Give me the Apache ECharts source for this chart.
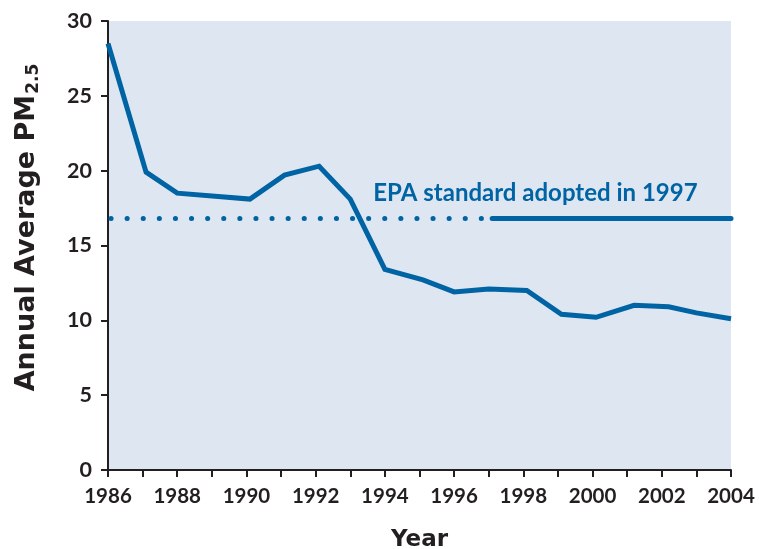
<!DOCTYPE html>
<html>
<head>
<meta charset="utf-8">
<script src="https://cdn.jsdelivr.net/npm/echarts@6/dist/echarts.min.js"></script>
<style>
  html, body { margin: 0; padding: 0; background: #fff; }
  #chart { width: 759px; height: 549px; }
</style>
</head>
<body>
<div id="chart"></div>
<script>
// annual average PM2.5 (x = year, y = value)
var years = [1986, 1987.1, 1988, 1990.1, 1991.1, 1992.1, 1993, 1994, 1995.1, 1996, 1997, 1998.1, 1999.1, 2000.1, 2001.2, 2002.2, 2003, 2004];
var pm25 = [28.5, 19.9, 18.5, 18.1, 19.7, 20.3, 18.1, 13.4, 12.7, 11.9, 12.1, 12.0, 10.4, 10.2, 11.0, 10.9, 10.5, 10.1];

// EPA standard line: dotted before adoption, solid after
var standardValue = 16.8;
var standardStart = 1986;
var adoptedYear = 1997.1;
var standardEnd = 2004;
var standardLabel = 'EPA standard adopted in 1997';
var labelAt = [1998.35, 18.5];

var blue = '#0064a4';
var ink = '#231f20';

var chart = echarts.init(document.getElementById('chart'));

var option = {
    animation: false,
    grid: {
        left: 108,
        right: 28,
        top: 21,
        bottom: 79,
        outerBoundsMode: 'none',
        containLabel: false,
        show: true,
        backgroundColor: '#dde6f1',
        borderWidth: 0
    },
    xAxis: {
        type: 'value',
        min: 1986,
        max: 2004,
        interval: 1,
        name: 'Year',
        nameLocation: 'middle',
        nameGap: 59,
        nameTextStyle: { fontFamily: 'DejaVu Sans', fontWeight: 'bold', fontSize: 23, color: ink },
        axisLine: { lineStyle: { color: ink, width: 2 } },
        axisTick: { length: 7, lineStyle: { color: ink, width: 2 } },
        splitLine: { show: false },
        axisLabel: {
            color: ink,
            fontFamily: 'Lato',
            fontWeight: 'bold',
            fontSize: 20.5,
            margin: 16,
            formatter: function (v) { return v % 2 === 0 ? String(v) : ''; }
        }
    },
    yAxis: {
        type: 'value',
        min: 0,
        max: 30,
        interval: 5,
        name: '{a|Annual Average PM}{b|2.5}',
        nameLocation: 'middle',
        nameGap: 66,
        nameTextStyle: {
            padding: [0, 0, 0, 36],
            rich: {
                a: { fontFamily: 'DejaVu Sans', fontWeight: 'bold', fontSize: 27, color: ink },
                b: { fontFamily: 'DejaVu Sans', fontWeight: 'bold', fontSize: 17, color: ink, padding: [14, 0, 0, 1] }
            }
        },
        axisLine: { show: true, lineStyle: { color: ink, width: 2 } },
        axisTick: { show: true, length: 7, lineStyle: { color: ink, width: 2 } },
        splitLine: { show: false },
        axisLabel: {
            color: ink,
            fontFamily: 'Lato',
            fontWeight: 'bold',
            fontSize: 21.5,
            margin: 16
        }
    },
    series: [
        {
            type: 'line',
            data: years.map(function (y, i) { return [y, pm25[i]]; }),
            symbol: 'none',
            lineStyle: { color: blue, width: 5, join: 'miter' },
            z: 3
        },
        {
            type: 'line',
            data: [[standardStart, standardValue], [adoptedYear, standardValue]],
            symbol: 'none',
            lineStyle: { color: blue, width: 5, type: [0.1, 16], cap: 'round', dashOffset: -3 },
            z: 2
        },
        {
            type: 'line',
            data: [[adoptedYear, standardValue], [standardEnd, standardValue]],
            symbol: 'none',
            lineStyle: { color: blue, width: 5, cap: 'round' },
            z: 2,
            markPoint: {
                symbol: 'circle',
                symbolSize: 0,
                data: [{ coord: labelAt }],
                label: {
                    show: true,
                    position: 'inside',
                    formatter: standardLabel,
                    color: blue,
                    fontFamily: 'Lato',
                    fontWeight: 'bold',
                    fontSize: 24
                }
            }
        }
    ]
};

chart.setOption(option);
</script>
</body>
</html>
